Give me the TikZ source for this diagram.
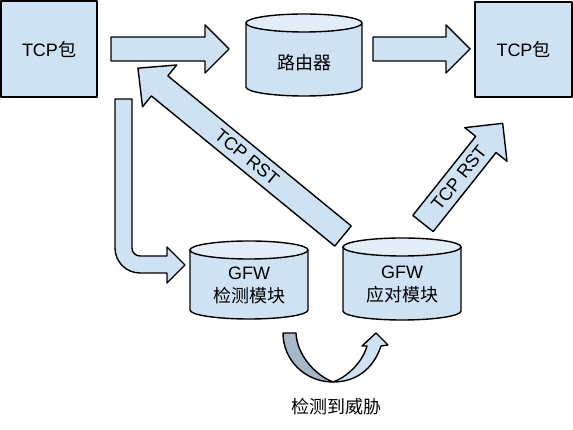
\documentclass[tikz,border=0pt]{standalone}
\usepackage{fontspec}
\setmainfont{Liberation Sans}
\newfontfamily\cjk{Noto Sans CJK SC}
\definecolor{boxfill}{HTML}{CFE2F3}
\definecolor{topfill}{HTML}{E2EDF8}
\definecolor{darkfill}{HTML}{A7B7C8}
\newcommand\drawcan[5]{%
  \draw[outl, fill=boxfill] (#1,#3) -- (#1,#4) arc[start angle=180,end angle=360,x radius={(#2-#1)/2},y radius=#5] -- (#2,#3) -- cycle;
  \draw[outl, fill=topfill] ({(#1+#2)/2},#3) ellipse[x radius={(#2-#1)/2}, y radius=#5];}
\newcommand\blockarrow[7]{%
  \begin{scope}[shift={(#1,#2)}, rotate=#3]
  \draw[outl, fill=boxfill] (0,{-#5/2}) -- ({#4-#7},{-#5/2}) -- ({#4-#7},{-#6/2}) -- (#4,0) -- ({#4-#7},{#6/2}) -- ({#4-#7},{#5/2}) -- (0,{#5/2}) -- cycle;
  \end{scope}}
\begin{document}
\begin{tikzpicture}[x=1pt,y=1pt,
  outl/.style={draw=black, line width=1.4pt, line join=round},
  txt/.style={font=\fontsize{18}{23}\selectfont, align=center},
  sq/.style={outl, fill=boxfill, inner sep=0pt, txt}]
\useasboundingbox (0,0) rectangle (573,430);
% squares
\node[sq, minimum width=96pt, minimum height=96pt] (src) at (49,381) {TCP{\cjk 包}};
\node[sq, minimum width=97pt, minimum height=95pt] (dst) at (523.5,380.5) {TCP{\cjk 包}};
% horizontal block arrows
\blockarrow{111}{381}{0}{118}{24}{48}{24}
\blockarrow{373}{381}{0}{97}{24}{48}{24}
% cylinders
\drawcan{246}{362}{407}{343}{9}
\drawcan{190}{308}{180}{120}{9}
\drawcan{343}{461}{183}{119}{9}
\node[txt] (router) at (304,367) {{\cjk 路由器}};
\node[txt] (detect) at (249,145) {GFW\\{\cjk 检测模块}};
\node[txt] (respond) at (402,145.5) {GFW\\{\cjk 应对模块}};
% L-shaped arrow
\draw[outl, fill=boxfill] (115,331) -- (115,182) arc[start angle=180,end angle=270,radius=25] -- (167,157) -- (167,147) -- (185,165) -- (167,183) -- (167,174) -- (140,174) arc[start angle=270,end angle=180,radius=8] -- (132,331) -- cycle;
% diagonal RST arrows
\blockarrow{343}{194}{140.7}{265}{26}{54}{28}
\node[txt, rotate=-39.3] (rst1) at (247,273) {TCP RST};
\blockarrow{423}{206.5}{51.5}{128}{26}{54}{27}
\node[txt, rotate=51.5] (rst2) at (459,252) {TCP RST};
% curved arrow
\draw[outl, fill=darkfill] (283,97) .. controls (283,70) and (305,48) .. (333,48) .. controls (315,55) and (297,75) .. (296,97) -- cycle;
\draw[outl, fill=boxfill] (381,84) .. controls (373,60) and (355,48) .. (333,48) .. controls (345,52) and (362,66) .. (367,84) -- (362,84) -- (376,97) -- (388,85) -- cycle;
\node[txt] (threat) at (336,23) {{\cjk 检测到威胁}};
\end{tikzpicture}
\end{document}
